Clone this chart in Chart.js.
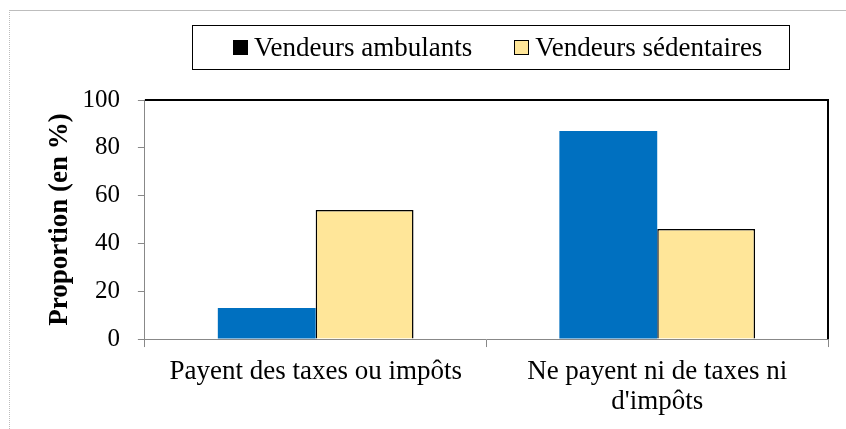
<!DOCTYPE html>
<html>
<head>
<meta charset="utf-8">
<script src="https://cdn.jsdelivr.net/npm/chart.js@4"></script>
<style>
    body { margin: 0; background: #fff; }
    .wrap { position: relative; width: 846px; height: 429px; }
    .frame {
        position: absolute; left: 9px; top: 10px; right: 0; bottom: 0;
        border-top: 1px solid #bdbdbd; border-left: 1px dotted #bdbdbd;
    }
    #chart1 { position: absolute; left: 0; top: 0; }
    .legend {
        position: absolute; left: 192px; top: 25px; width: 598px; height: 45px;
        border: 1px solid #000; display: flex; align-items: center;
        padding-left: 40px; box-sizing: border-box; white-space: nowrap;
        font-family: 'Liberation Serif', serif; font-size: 27px; color: #000;
    }
    .legend .item { display: flex; align-items: center; flex-shrink: 0; margin-right: 42px; }
    .legend .box { width: 13px; height: 13px; margin-right: 6px; border: 1px solid #000; flex-shrink: 0; }
</style>
</head>
<body>
<div class="wrap">
    <div class="frame"></div>
    <canvas id="chart1" width="846" height="429"></canvas>
    <div class="legend" id="legend"></div>
</div>
<script>
const categories = ['Payent des taxes ou impôts', ['Ne payent ni de taxes ni', "d'impôts"]];
const seriesNames = ['Vendeurs ambulants', 'Vendeurs sédentaires'];
const ambulants = [13, 87];
const sedentaires = [54, 46];
const yTicks = [0, 20, 40, 60, 80, 100];

const serif = "'Liberation Serif', 'Times New Roman', serif";

// black frame on top and right of the plot area
const plotFrame = {
    id: 'plotFrame',
    afterDraw(chart) {
        const { ctx, chartArea: a } = chart;
        ctx.save();
        ctx.strokeStyle = '#000';
        ctx.lineWidth = 2;
        ctx.beginPath();
        ctx.moveTo(a.left, a.top);
        ctx.lineTo(a.right, a.top);
        ctx.lineTo(a.right, a.bottom);
        ctx.stroke();
        ctx.restore();
    }
};

const chart1 = new Chart(document.querySelector('#chart1'), {
    type: 'bar',
    data: {
        labels: categories,
        datasets: [{
            label: seriesNames[0],
            data: ambulants,
            backgroundColor: '#0070C0',
            borderWidth: 0,
            categoryPercentage: 0.573,
            barPercentage: 1,
        },
        {
            label: seriesNames[1],
            data: sedentaires,
            backgroundColor: '#FFE699',
            borderColor: '#000',
            borderWidth: 1.5,
            categoryPercentage: 0.573,
            barPercentage: 1,
        }]
    },
    options: {
        responsive: false,
        animation: false,
        layout: {
            padding: { top: 100, right: 18, bottom: 2, left: 24 }
        },
        scales: {
            x: {
                grid: {
                    drawOnChartArea: false,
                    tickLength: 8,
                    color: '#888',
                },
                border: { color: '#888' },
                ticks: {
                    color: '#000',
                    padding: 10,
                    maxRotation: 0,
                    font: { family: serif, size: 27, lineHeight: 1.11 }
                }
            },
            y: {
                min: 0,
                max: 100,
                afterBuildTicks: (axis) => { axis.ticks = yTicks.map(v => ({ value: v })); },
                grid: {
                    drawOnChartArea: false,
                    tickLength: 7,
                    color: '#888',
                },
                border: { color: '#888' },
                ticks: {
                    color: '#000',
                    padding: 18,
                    font: { family: serif, size: 25 }
                },
                title: {
                    display: true,
                    text: 'Proportion (en %)',
                    color: '#000',
                    padding: { top: 20, bottom: -12 },
                    font: { family: serif, size: 27, weight: 'bold', lineHeight: 1.2 }
                }
            }
        },
        plugins: {
            legend: { display: false },
            tooltip: { enabled: false }
        }
    },
    plugins: [plotFrame],
});

// legend drawn as html, marker of the first series is black like the original
const legendColors = [['#000', '#000'], ['#FFE699', '#000']];
const legendEl = document.getElementById('legend');
seriesNames.forEach((name, i) => {
    const item = document.createElement('div');
    item.className = 'item';
    item.innerHTML = `<span class="box" style="background:${legendColors[i][0]};border-color:${legendColors[i][1]}"></span><span>${name}</span>`;
    legendEl.appendChild(item);
});
</script>
</body>
</html>
